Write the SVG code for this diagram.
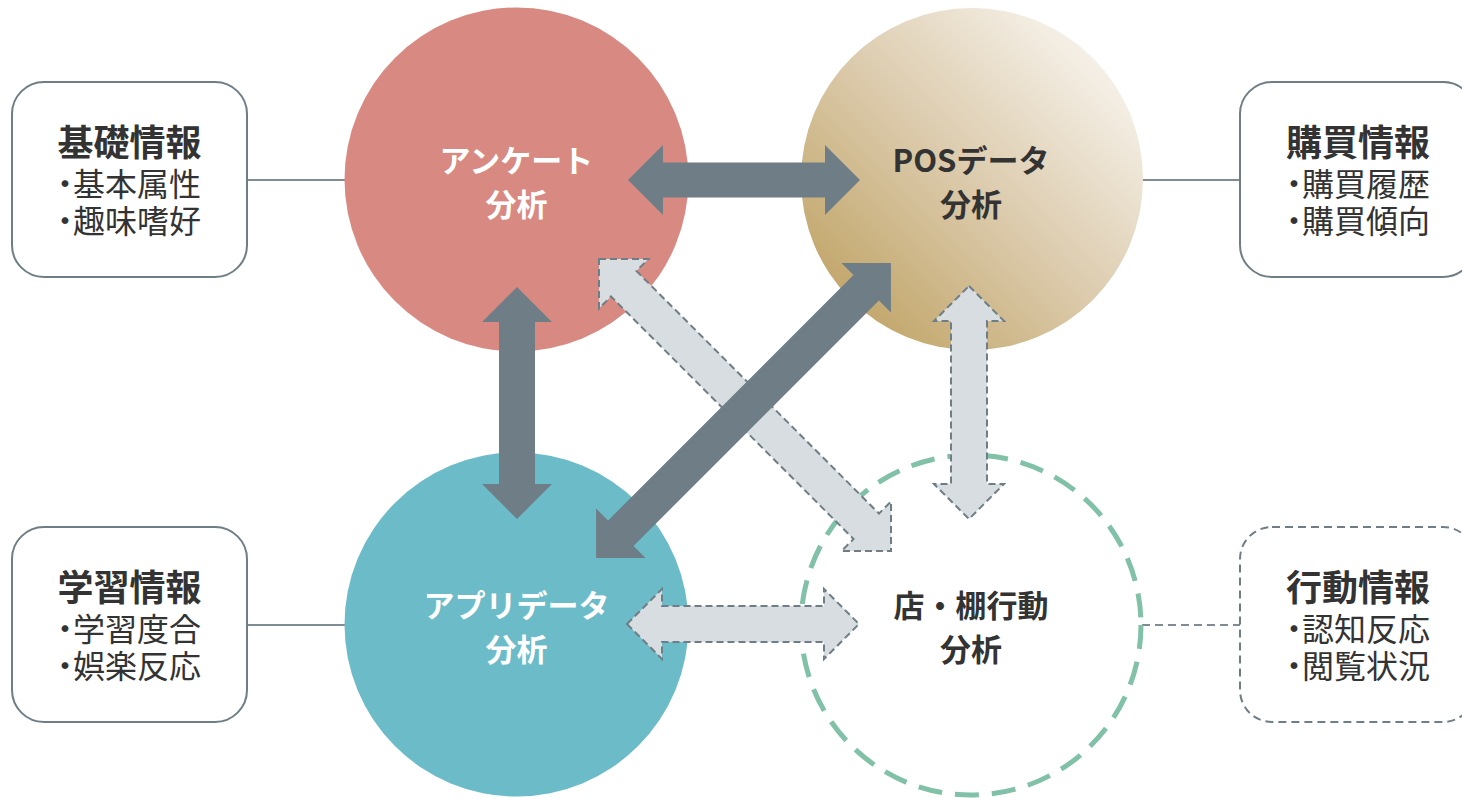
<svg xmlns="http://www.w3.org/2000/svg" width="1462" height="798" viewBox="0 0 1462 798">
<style>
.box{fill:#fff;stroke:#6f7e86;stroke-width:2}
.dbox{fill:#fff;stroke:#6f7e86;stroke-width:2;stroke-dasharray:8 5}
.ttl{font-family:"Noto Sans CJK JP","Noto Sans",sans-serif;font-weight:bold;font-size:36px;fill:#333;text-anchor:middle}
.itm{font-family:"Noto Sans CJK JP","Noto Sans",sans-serif;font-size:32px;fill:#333;font-feature-settings:"palt"}
.ctx{font-family:"Noto Sans CJK JP","Noto Sans",sans-serif;font-weight:bold;font-size:31px;text-anchor:middle}
.w{fill:#fff}.k{fill:#333}
.ln{stroke:#7f8c93;stroke-width:2;fill:none}
.dln{stroke:#7f8c93;stroke-width:2;fill:none;stroke-dasharray:8 5}
.dark{fill:#6f7e86}
.light{fill:#d7dde0;stroke:#6f7e86;stroke-width:2;stroke-dasharray:7 4}
</style>
<defs>
<linearGradient id="pos" x1="0" y1="1" x2="1" y2="0">
<stop offset="0" stop-color="#b99a54"/>
<stop offset="0.5" stop-color="#dccbad"/>
<stop offset="1" stop-color="#ffffff"/>
</linearGradient>
</defs>
<rect width="1462" height="798" fill="#fff"/>

<g id="connectors">
<line class="ln" x1="247" y1="180" x2="346" y2="180"/>
<line class="ln" x1="1142" y1="180" x2="1240" y2="180"/>
<line class="ln" x1="247" y1="625" x2="346" y2="625"/>
<line class="dln" x1="1142" y1="625" x2="1240" y2="625"/>
</g>

<g id="box-kiso">
<rect class="box" x="12" y="82" width="235" height="195" rx="32"/>
<text class="ttl" x="129.5" y="156">基礎情報</text>
<text class="itm" x="57" y="196">・基本属性</text>
<text class="itm" x="57" y="233">・趣味嗜好</text>
</g>
<g id="box-kobai">
<rect class="box" x="1240" y="82" width="235" height="195" rx="32"/>
<text class="ttl" x="1358" y="156">購買情報</text>
<text class="itm" x="1286" y="196">・購買履歴</text>
<text class="itm" x="1286" y="233">・購買傾向</text>
</g>
<g id="box-gakushu">
<rect class="box" x="12" y="527" width="235" height="195" rx="32"/>
<text class="ttl" x="129.5" y="601">学習情報</text>
<text class="itm" x="57" y="641">・学習度合</text>
<text class="itm" x="57" y="678">・娯楽反応</text>
</g>
<g id="box-kodo">
<rect class="dbox" x="1240" y="527" width="235" height="195" rx="32"/>
<text class="ttl" x="1358" y="601">行動情報</text>
<text class="itm" x="1286" y="641">・認知反応</text>
<text class="itm" x="1286" y="678">・閲覧状況</text>
</g>

<g id="c-enquete">
<circle cx="516.5" cy="179.5" r="172" fill="#d88a82"/>
<text class="ctx w" x="516.5" y="172">アンケート</text>
<text class="ctx w" x="516.5" y="216">分析</text>
</g>
<g id="c-pos">
<circle cx="972" cy="179" r="171" fill="url(#pos)"/>
<text class="ctx k" x="971" y="172">POSデータ</text>
<text class="ctx k" x="971" y="216">分析</text>
</g>
<g id="c-app">
<circle cx="516.5" cy="624.5" r="172" fill="#6cbbc8"/>
<text class="ctx w" x="516.5" y="617">アプリデータ</text>
<text class="ctx w" x="516.5" y="661">分析</text>
</g>
<g id="c-store">
<circle cx="971" cy="625" r="170" fill="none" stroke="#80c1a7" stroke-width="5" stroke-dasharray="24 13"/>
<text class="ctx k" x="971" y="617">店・棚行動</text>
<text class="ctx k" x="971" y="661">分析</text>
</g>

<g id="arrows">
<path class="light" transform="translate(745 405) rotate(45)" d="M-206.5 0 L-171.5 -35 L-171.5 -18 L171.5 -18 L171.5 -35 L206.5 0 L171.5 35 L171.5 18 L-171.5 18 L-171.5 35 Z"/>
<path class="light" transform="translate(969 402.5) rotate(90)" d="M-116.5 0 L-81.5 -35 L-81.5 -18 L81.5 -18 L81.5 -35 L116.5 0 L81.5 35 L81.5 18 L-81.5 18 L-81.5 35 Z"/>
<path class="light" transform="translate(743 624)" d="M-116 0 L-81 -35 L-81 -18 L81 -18 L81 -35 L116 0 L81 35 L81 18 L-81 18 L-81 35 Z"/>
<path class="dark" transform="translate(744 180)" d="M-116 0 L-81 -35 L-81 -17.5 L81 -17.5 L81 -35 L116 0 L81 35 L81 17.5 L-81 17.5 L-81 35 Z"/>
<path class="dark" transform="translate(517 403) rotate(90)" d="M-116 0 L-81 -35 L-81 -18 L81 -18 L81 -35 L116 0 L81 35 L81 18 L-81 18 L-81 35 Z"/>
<path class="dark" transform="translate(743.5 410.5) rotate(-45)" d="M-208.5 0 L-173.5 -35 L-173.5 -18 L173.5 -18 L173.5 -35 L208.5 0 L173.5 35 L173.5 18 L-173.5 18 L-173.5 35 Z"/>
</g>
</svg>
